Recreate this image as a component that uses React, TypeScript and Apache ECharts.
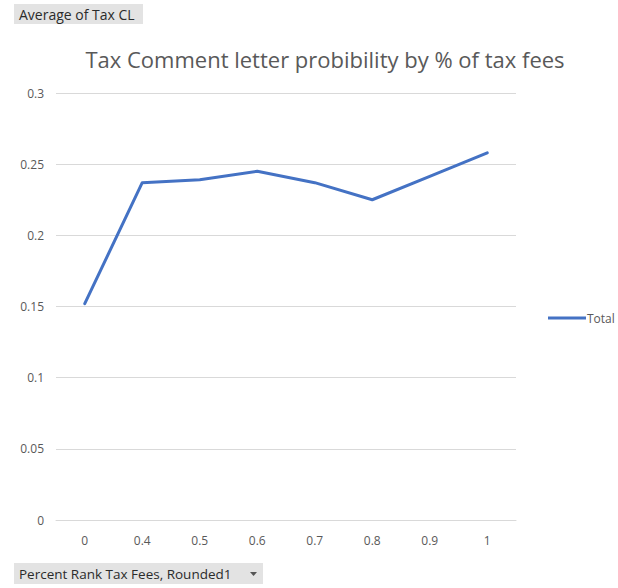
import React, { useEffect, useRef } from "react";
import * as echarts from "echarts";

const categories = ["0", "0.4", "0.5", "0.6", "0.7", "0.8", "0.9", "1"];
const totalValues = [0.152, 0.237, 0.239, 0.245, 0.237, 0.225, 0.2415, 0.258];
const yTicks = [0, 0.05, 0.1, 0.15, 0.2, 0.25, 0.3];
const seriesName = "Total";
const titleText = "Tax Comment letter probibility by % of tax fees";
const valueFieldLabel = "Average of Tax CL";
const axisFieldLabel = "Percent Rank Tax Fees, Rounded1";

export default function App() {
  const ref = useRef<HTMLDivElement>(null);
  useEffect(() => {
    if (!ref.current) return;
    const chart = echarts.init(ref.current, null, { renderer: "svg" });
    const font = "'Open Sans', 'Noto Sans', sans-serif";
    chart.setOption({
      animation: false,
      backgroundColor: "#ffffff",
      title: {
        text: titleText,
        left: 320,
        textAlign: "center",
        top: 43,
        textStyle: { fontFamily: font, fontSize: 22, fontWeight: "normal", color: "#595959" },
      },
      legend: {
        data: [seriesName],
        orient: "vertical",
        left: 543,
        top: 307,
        itemWidth: 38,
        itemHeight: 3,
        itemGap: 2,
        icon: "rect",
        textStyle: { fontFamily: font, fontSize: 12, color: "#595959", padding: [0, 0, 0, -4] },
      },
      grid: { left: 56, right: 102, top: 93, bottom: 68, containLabel: false },
      xAxis: {
        type: "category",
        data: categories,
        boundaryGap: true,
        axisLine: { show: true, lineStyle: { color: "#d9d9d9", width: 1 } },
        axisTick: { show: false },
        axisLabel: { fontFamily: font, fontSize: 12, color: "#595959", margin: 14 },
      },
      yAxis: {
        type: "value",
        min: yTicks[0],
        max: yTicks[yTicks.length - 1],
        interval: 0.05,
        axisLine: { show: false },
        axisTick: { show: false },
        splitLine: { lineStyle: { color: "#d9d9d9", width: 1 } },
        axisLabel: { fontFamily: font, fontSize: 12, color: "#595959", margin: 12, formatter: (v: number) => String(+v.toFixed(2)) },
      },
      series: [
        {
          name: seriesName,
          type: "line",
          data: totalValues,
          symbol: "none",
          lineStyle: { color: "#4472C4", width: 3, cap: "round", join: "round" },
          itemStyle: { color: "#4472C4" },
        },
      ],
      graphic: [
        {
          type: "group",
          left: 14,
          top: 4,
          children: [
            { type: "rect", shape: { x: 0, y: 0, width: 129, height: 20 }, style: { fill: "#e3e3e3" } },
            { type: "text", x: 5, y: 10, style: { text: valueFieldLabel, fontFamily: font, fontSize: 14, fill: "#2b2b2b", verticalAlign: "middle" } },
          ],
        },
        {
          type: "group",
          left: 14,
          top: 563,
          children: [
            { type: "rect", shape: { x: 0, y: 0, width: 249, height: 21 }, style: { fill: "#e3e3e3" } },
            { type: "text", x: 5, y: 10.5, style: { text: axisFieldLabel, fontFamily: font, fontSize: 13.5, fill: "#2b2b2b", verticalAlign: "middle" } },
            { type: "polygon", shape: { points: [[236, 9], [243, 9], [239.5, 13]] }, style: { fill: "#555555" } },
          ],
        },
      ],
    });
    return () => chart.dispose();
  }, []);
  return <div ref={ref} style={{ position: "fixed", left: 0, top: 0, width: 618, height: 588 }} />;
}
